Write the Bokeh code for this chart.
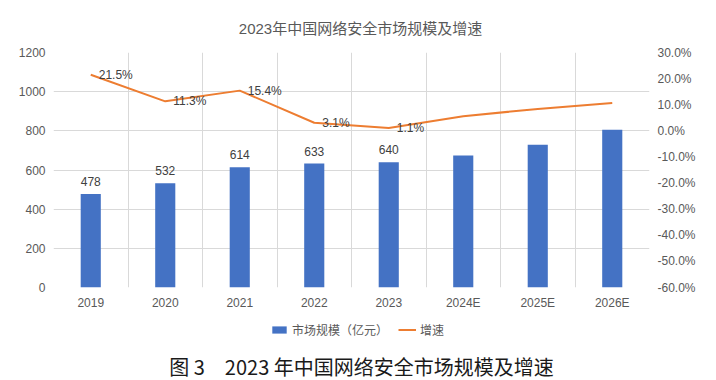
from bokeh.plotting import figure
from bokeh.models import (ColumnDataSource, Range1d, LinearAxis, FixedTicker,
                          NumeralTickFormatter, Legend, LegendItem)
from bokeh.layouts import column
from bokeh.embed import file_html
from bokeh.resources import INLINE
from bokeh.core.properties import value

# ---- data ----
categories = ["2019", "2020", "2021", "2022", "2023", "2024E", "2025E", "2026E"]
market_size = [478, 532, 614, 633, 640, 674, 729, 805]
growth_pct = [21.5, 11.3, 15.4, 3.1, 1.1, 5.6, 8.4, 10.7]
bar_labels = ["478", "532", "614", "633", "640"]
growth_labels = ["21.5%", "11.3%", "15.4%", "3.1%", "1.1%"]
left_ticks = [0, 200, 400, 600, 800, 1000, 1200]
right_ticks = [-60, -50, -40, -30, -20, -10, 0, 10, 20, 30]
title_text = "2023年中国网络安全市场规模及增速"
caption_text = "图 3\u30002023 年中国网络安全市场规模及增速"
series_names = ["市场规模（亿元）", "增速"]

LATIN = "Liberation Sans"
CJK = "Noto Sans CJK SC"
MIX = "Liberation Sans, Noto Sans CJK SC"
GREY = "#595959"
DARK = "#404040"
BLUE = "#4472C4"
ORANGE = "#ED7D31"
GRID = "#d9d9d9"
W = 716
FRAME_L, FRAME_R = 53, 649   # page-pixel span of the plotting frame

n = len(categories)
xs = [i + 0.5 for i in range(n)]
growth = [g / 100 for g in growth_pct]

src = ColumnDataSource(dict(x=xs, size=market_size, growth=growth))
lab_bar = ColumnDataSource(dict(x=xs[:len(bar_labels)], y=market_size[:len(bar_labels)], t=bar_labels))
lab_g = ColumnDataSource(dict(x=xs[:len(growth_labels)], y=growth[:len(growth_labels)], t=growth_labels))


def strip(height):
    # frames of plots in a column are aligned with the main frame
    f = figure(width=W, height=height, x_range=Range1d(FRAME_L, FRAME_R),
               y_range=Range1d(0, height), x_axis_type=None, y_axis_type=None,
               output_backend="svg", toolbar_location=None, min_border=0)
    f.outline_line_color = None
    f.grid.visible = False
    return f


# ---- title strip ----
top = strip(40)
top.text(x=[360], y=[12], text=[title_text], text_align="center", text_baseline="middle",
         text_font=value(MIX), text_font_size="15px", text_color=GREY)

# ---- main chart ----
p = figure(frame_width=FRAME_R - FRAME_L, frame_height=235,
           x_range=Range1d(0, n), y_range=Range1d(left_ticks[0], left_ticks[-1]),
           output_backend="svg", toolbar_location=None,
           min_border_left=FRAME_L, min_border_right=W - FRAME_R,
           min_border_top=12, min_border_bottom=22)
p.outline_line_color = None
p.background_fill_color = "white"
p.border_fill_color = "white"

p.extra_y_ranges = {"pct": Range1d(right_ticks[0] / 100, right_ticks[-1] / 100)}

p.xgrid.ticker = FixedTicker(ticks=list(range(n + 1)))
p.ygrid.ticker = FixedTicker(ticks=left_ticks)
p.grid.grid_line_color = GRID
p.grid.grid_line_width = 1

p.xaxis.ticker = FixedTicker(ticks=xs)
p.xaxis.major_label_overrides = {x: c for x, c in zip(xs, categories)}
p.yaxis.ticker = FixedTicker(ticks=left_ticks)

right = LinearAxis(y_range_name="pct",
                   ticker=FixedTicker(ticks=[t / 100 for t in right_ticks]),
                   formatter=NumeralTickFormatter(format="0.0%"))
p.add_layout(right, "right")

for ax in p.axis:
    ax.axis_line_color = None
    ax.major_tick_line_color = None
    ax.minor_tick_line_color = None
    ax.major_tick_out = 0
    ax.major_tick_in = 0
    ax.minor_tick_out = 0
    ax.minor_tick_in = 0
    ax.major_label_text_font = LATIN
    ax.major_label_text_font_size = "12px"
    ax.major_label_text_color = GREY
    ax.major_label_standoff = 8

p.vbar(x="x", top="size", width=0.27, source=src, fill_color=BLUE, line_color=None)
p.line(x="x", y="growth", source=src, y_range_name="pct", line_color=ORANGE, line_width=2)

p.text(x="x", y="y", text="t", source=lab_bar, text_align="center", text_baseline="bottom",
       y_offset=-8, text_font=value(LATIN), text_font_size="12px", text_color=DARK)
p.text(x="x", y="y", text="t", source=lab_g, y_range_name="pct", text_align="left",
       text_baseline="middle", x_offset=8, text_font=value(LATIN), text_font_size="12px",
       text_color=DARK)

# ---- legend + caption strip ----
bot = strip(71)
# legend swatches: same series and styles, not drawn in this strip (legend only)
leg_bar = bot.vbar(x="x", top="size", width=0.27, source=src, fill_color=BLUE,
                   line_color=None, visible=False)
leg_line = bot.line(x="x", y="growth", source=src, line_color=ORANGE, line_width=2,
                    visible=False)
legend = Legend(items=[LegendItem(label=series_names[0], renderers=[leg_bar]),
                       LegendItem(label=series_names[1], renderers=[leg_line])],
                orientation="horizontal", location=(270 - FRAME_L, 45),
                glyph_width=18, glyph_height=9, label_height=12,
                label_text_font=CJK, label_text_font_size="12px", label_text_color=GREY,
                spacing=10, padding=0, margin=0, label_standoff=4,
                border_line_color=None, background_fill_alpha=0, click_policy="none")
bot.add_layout(legend)
bot.text(x=[361], y=[17], text=[caption_text], text_align="center", text_baseline="middle",
         text_font=value(CJK), text_font_size="20px", text_color="#1a1a1a")

layout = column(top, p, bot)

open("out.html", "w").write(file_html(layout, INLINE))
